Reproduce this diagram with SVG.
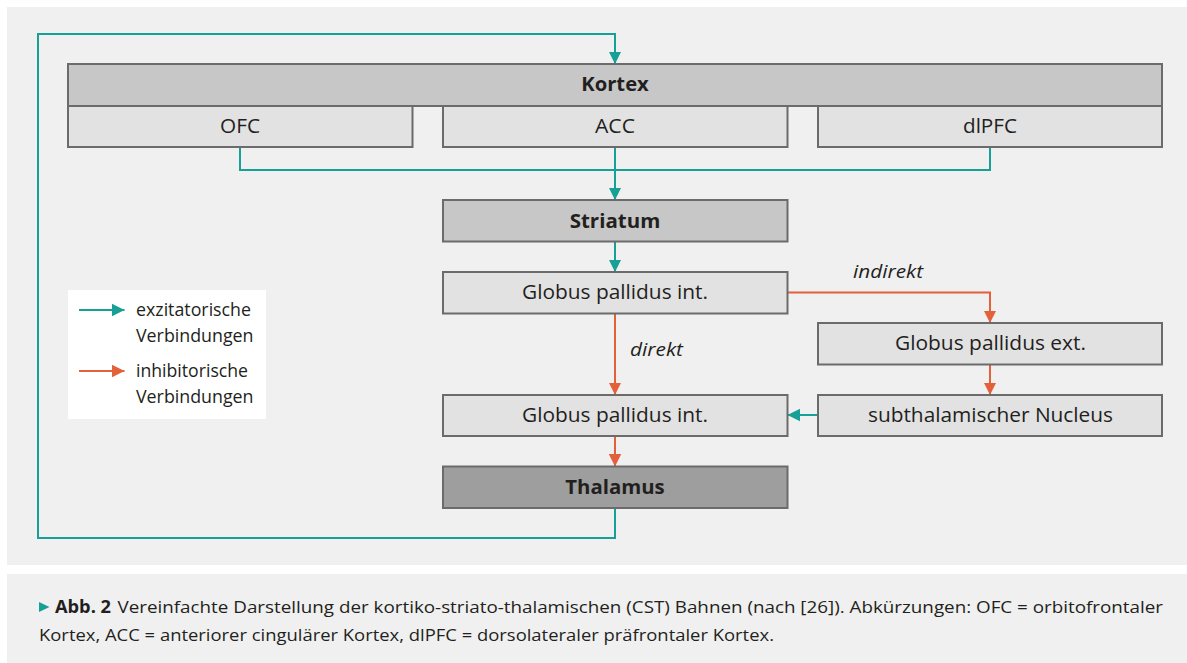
<svg xmlns="http://www.w3.org/2000/svg" width="1187" height="663" viewBox="0 0 1187 663">
<defs>
<style>
.bg{fill:#f0f0f0}
.box{stroke:#6b6b6b;stroke-width:2}
.hdr{fill:#c6c7c6}
.sub{fill:#e2e2e2}
.thal{fill:#9d9e9d}
.t{font-family:"Open Sans","Noto Sans","Liberation Sans",sans-serif;font-size:20px;fill:#231f20;text-anchor:middle}
.b{font-weight:700}
.i{font-style:italic;text-anchor:start;font-size:19px}
.lg{font-family:"Open Sans","Noto Sans","Liberation Sans",sans-serif;font-size:18px;fill:#231f20}
.cap{font-family:"Open Sans","Noto Sans","Liberation Sans",sans-serif;font-size:17px;fill:#231f20}
.ex{fill:none;stroke:#17a096;stroke-width:2}
.in{fill:none;stroke:#e2613a;stroke-width:2}
</style>
<marker id="ah-ex" markerUnits="userSpaceOnUse" markerWidth="13" markerHeight="13" refX="12.5" refY="6.25" orient="auto" viewBox="0 0 13 12.5">
<path d="M0,0 L12.5,6.25 L0,12.5 z" fill="#17a096"/>
</marker>
<marker id="ah-in" markerUnits="userSpaceOnUse" markerWidth="13" markerHeight="13" refX="12.5" refY="6.25" orient="auto" viewBox="0 0 13 12.5">
<path d="M0,0 L12.5,6.25 L0,12.5 z" fill="#e2613a"/>
</marker>
</defs>
<rect x="0" y="0" width="1187" height="663" fill="#ffffff"/>
<rect class="bg" x="7" y="7" width="1180" height="558"/>
<rect class="bg" x="7" y="574" width="1180" height="89"/>

<g id="connectors">
<path class="ex" d="M615,508 V538 H38 V34 H615 V64" marker-end="url(#ah-ex)"/>
<path class="ex" d="M240,147 V170 H990 V147"/>
<path class="ex" d="M615,147 V200" marker-end="url(#ah-ex)"/>
<path class="ex" d="M615,241.5 V272" marker-end="url(#ah-ex)"/>
<path class="in" d="M787.5,292.5 H990 V323" marker-end="url(#ah-in)"/>
<path class="in" d="M615,313.5 V395" marker-end="url(#ah-in)"/>
<path class="in" d="M990,364.5 V395" marker-end="url(#ah-in)"/>
<path class="ex" d="M818,415 H787.5" marker-end="url(#ah-ex)"/>
<path class="in" d="M615,436 V466.5" marker-end="url(#ah-in)"/>
<text class="t i" x="853" y="277.5" textLength="70" lengthAdjust="spacingAndGlyphs">indirekt</text>
<text class="t i" x="630" y="356" textLength="53" lengthAdjust="spacingAndGlyphs">direkt</text>
</g>

<g id="kortex">
<rect class="box hdr" x="68" y="64" width="1094" height="42"/>
<text class="t b" x="615" y="91" textLength="67.6" lengthAdjust="spacingAndGlyphs">Kortex</text>
</g>
<g id="ofc">
<rect class="box sub" x="68" y="106" width="344.5" height="41"/>
<text class="t" x="240" y="133" textLength="40" lengthAdjust="spacingAndGlyphs">OFC</text>
</g>
<g id="acc">
<rect class="box sub" x="443" y="106" width="344.5" height="41"/>
<text class="t" x="615" y="133" textLength="40" lengthAdjust="spacingAndGlyphs">ACC</text>
</g>
<g id="dlpfc">
<rect class="box sub" x="818" y="106" width="344" height="41"/>
<text class="t" x="990" y="133" textLength="54" lengthAdjust="spacingAndGlyphs">dlPFC</text>
</g>
<g id="striatum">
<rect class="box hdr" x="443" y="200" width="344.5" height="41.5"/>
<text class="t b" x="615" y="228" textLength="90.6" lengthAdjust="spacingAndGlyphs">Striatum</text>
</g>
<g id="gpi1">
<rect class="box sub" x="443" y="272" width="344.5" height="41.5"/>
<text class="t" x="615" y="299" textLength="186" lengthAdjust="spacingAndGlyphs">Globus pallidus int.</text>
</g>
<g id="gpe">
<rect class="box sub" x="818" y="323" width="344" height="41.5"/>
<text class="t" x="990.5" y="350" textLength="191" lengthAdjust="spacingAndGlyphs">Globus pallidus ext.</text>
</g>
<g id="gpi2">
<rect class="box sub" x="443" y="395" width="344.5" height="41"/>
<text class="t" x="615" y="422" textLength="186" lengthAdjust="spacingAndGlyphs">Globus pallidus int.</text>
</g>
<g id="stn">
<rect class="box sub" x="818" y="395" width="344" height="41"/>
<text class="t" x="990.5" y="422" textLength="245" lengthAdjust="spacingAndGlyphs">subthalamischer Nucleus</text>
</g>
<g id="thalamus">
<rect class="box thal" x="443" y="466.5" width="344.5" height="41.5"/>
<text class="t b" x="615" y="494" textLength="99.5" lengthAdjust="spacingAndGlyphs">Thalamus</text>
</g>

<g id="legend">
<rect x="68" y="290" width="198" height="129" fill="#ffffff"/>
<path class="ex" d="M79,310 H124.5" marker-end="url(#ah-ex)"/>
<path class="in" d="M79,371 H124.5" marker-end="url(#ah-in)"/>
<text class="lg" x="136" y="315.5" textLength="115" lengthAdjust="spacingAndGlyphs">exzitatorische</text>
<text class="lg" x="136" y="341.5" textLength="117.5" lengthAdjust="spacingAndGlyphs">Verbindungen</text>
<text class="lg" x="136" y="376.5" textLength="112" lengthAdjust="spacingAndGlyphs">inhibitorische</text>
<text class="lg" x="136" y="402.5" textLength="117.5" lengthAdjust="spacingAndGlyphs">Verbindungen</text>
</g>

<g id="caption">
<polygon points="39,602 49.5,607 39,612" fill="#17a096"/>
<text class="cap b" x="55" y="613" textLength="56" lengthAdjust="spacingAndGlyphs">Abb. 2</text>
<text class="cap" x="117.5" y="613" textLength="1045.5" lengthAdjust="spacingAndGlyphs">Vereinfachte Darstellung der kortiko-striato-thalamischen (CST) Bahnen (nach [26]). Abkürzungen: OFC = orbitofrontaler</text>
<text class="cap" x="39" y="641" textLength="735" lengthAdjust="spacingAndGlyphs">Kortex, ACC = anteriorer cingulärer Kortex, dlPFC = dorsolateraler präfrontaler Kortex.</text>
</g>
</svg>
